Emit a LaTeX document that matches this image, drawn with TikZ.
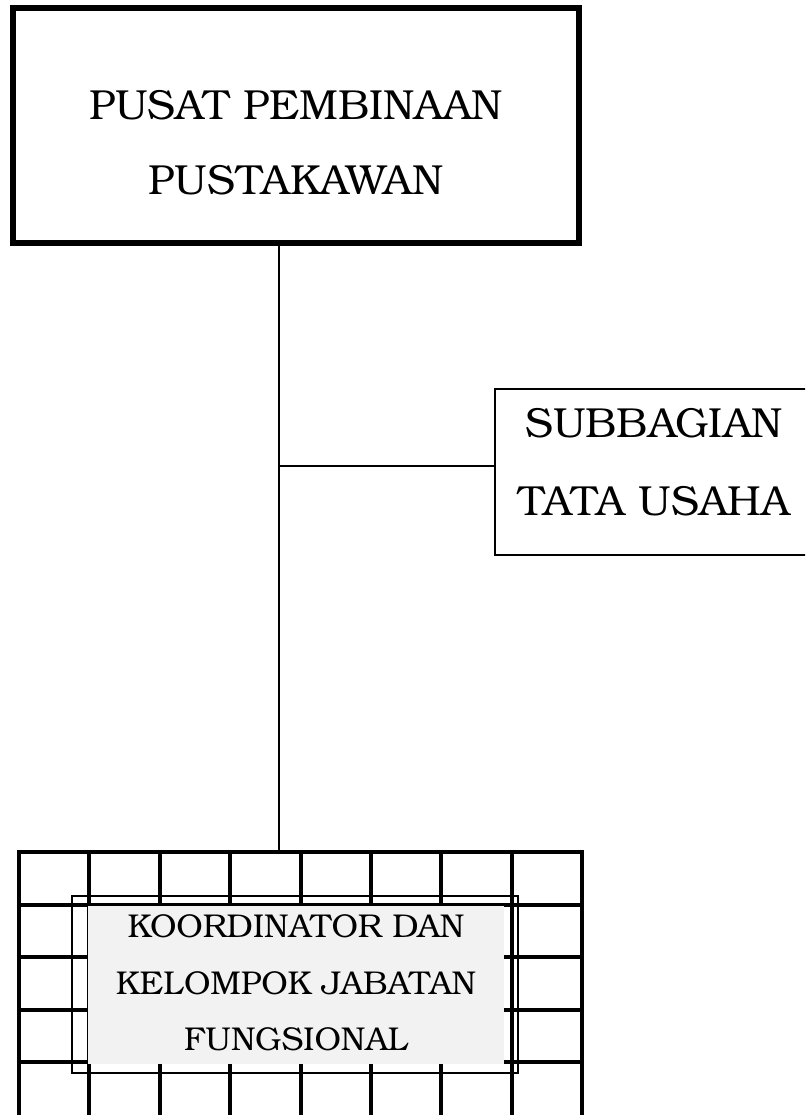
\documentclass[tikz,border=0pt]{standalone}
\usepackage{fontspec}
\setmainfont{TeX Gyre Bonum}
\definecolor{boxgray}{HTML}{F2F2F2}
\tikzset{
  gridline/.style={line width=4pt, line cap=rect},
  bigtext/.style={anchor=base, inner sep=0pt, font=\fontsize{42}{50}\selectfont},
  smalltext/.style={anchor=base, inner sep=0pt, font=\fontsize{33}{40}\selectfont},
  thinbox/.style={draw, line width=1.3pt, inner sep=0pt},
  conn/.style={line width=1.4pt},
}
\begin{document}
\begin{tikzpicture}[x=1pt,y=-1pt]
\useasboundingbox (0,0) rectangle (805,1115);
\clip (0,0) rectangle (805,1115);
% top box
\node[draw, line width=6pt, minimum width=566pt, minimum height=235pt, inner sep=0pt] (pusat) at (296,125.5) {};
\node[bigtext] (pusat1) at (296,120) {PUSAT PEMBINAAN};
\node[bigtext] (pusat2) at (296,195) {PUSTAKAWAN};
% subbagian box
\node[thinbox, minimum width=318pt, minimum height=166pt] (tu) at (654,472) {};
\node[bigtext] (tu1) at (654,437) {SUBBAGIAN};
\node[bigtext] (tu2) at (654,515) {TATA USAHA};
% grid
\foreach \i in {0,...,8}
  \draw[gridline] ({19+70.375*\i},852) -- ({19+70.375*\i},1125);
\foreach \j in {0,...,4}
  \draw[gridline] (19,{852+52.5*\j}) -- (582,{852+52.5*\j});
\coordinate (gridtop) at (279,850);
% koordinator box
\node[thinbox, minimum width=446pt, minimum height=177pt] (kjfframe) at (295,984.5) {};
\node[fill=boxgray, minimum width=416pt, minimum height=158pt, inner sep=0pt] (kjf) at (296,985) {};
\node[smalltext] (kjf1) at (296,937) {KOORDINATOR DAN};
\node[smalltext] (kjf2) at (296,994) {KELOMPOK JABATAN};
\node[smalltext] (kjf3) at (296,1050) {FUNGSIONAL};
% connectors
\draw[conn] (pusat.south -| gridtop) -- (gridtop);
\coordinate (branch) at (279,466);
\draw[line width=2pt] (branch) -- (branch -| tu.west);
\end{tikzpicture}
\end{document}
